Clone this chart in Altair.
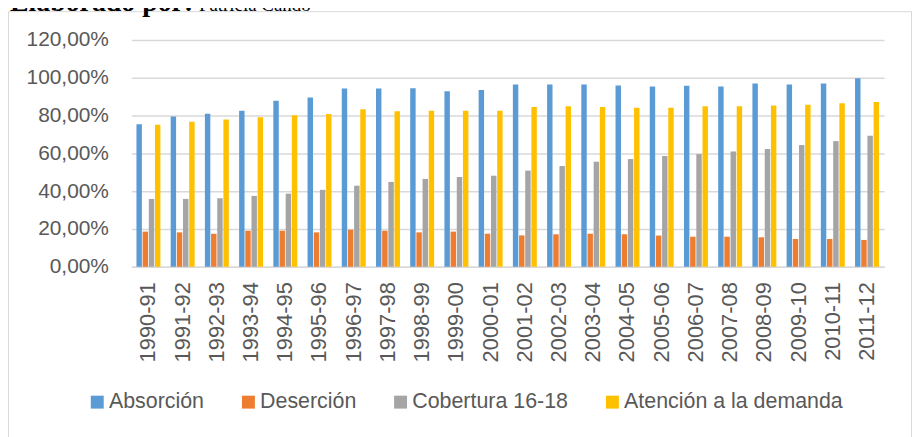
import altair as alt
import pandas as pd

years = ["1990-91", "1991-92", "1992-93", "1993-94", "1994-95", "1995-96", "1996-97",
         "1997-98", "1998-99", "1999-00", "2000-01", "2001-02", "2002-03", "2003-04",
         "2004-05", "2005-06", "2006-07", "2007-08", "2008-09", "2009-10", "2010-11", "2011-12"]
absorcion = [75.4, 79.5, 81.0, 82.6, 87.9, 89.6, 94.4, 94.4, 94.5, 92.9, 93.5,
             96.5, 96.5, 96.5, 95.9, 95.4, 95.8, 95.4, 97.0, 96.5, 97.0, 99.8]
desercion = [18.6, 18.2, 17.5, 19.1, 19.1, 18.2, 19.6, 19.1, 18.2, 18.6, 17.5,
             16.6, 17.2, 17.5, 17.2, 16.5, 15.9, 15.9, 15.6, 14.7, 14.7, 14.2]
cobertura = [35.9, 35.9, 36.3, 37.5, 38.7, 40.7, 42.9, 44.9, 46.5, 47.5, 48.2,
             50.9, 53.3, 55.6, 57.0, 58.6, 59.6, 61.0, 62.3, 64.4, 66.5, 69.3]
atencion = [75.2, 76.8, 77.9, 79.1, 80.2, 80.9, 83.3, 82.3, 82.6, 82.6, 82.6,
            84.5, 84.9, 84.5, 84.2, 84.2, 84.9, 84.9, 85.4, 85.8, 86.5, 87.2]
series = ["Absorción", "Deserción", "Cobertura 16-18", "Atención a la demanda"]
colors = ["#5B9BD5", "#ED7D31", "#A5A5A5", "#FFC000"]
y_ticks = [0, 20, 40, 60, 80, 100, 120]
title_bold = "Elaborado por:"
title_normal = "Patricia Cando"

rows = []
for s, vals in zip(series, [absorcion, desercion, cobertura, atencion]):
    for y, v in zip(years, vals):
        rows.append({"year": y, "serie": s, "valor": v})
df = pd.DataFrame(rows)

W, H = 757, 228
FONT = "Liberation Sans"
TXT = "#595959"

frame = alt.Chart(pd.DataFrame({"k": [0]})).mark_rect(
    filled=False, stroke="#d9d9d9", strokeWidth=1
).encode(
    x=alt.value(-123.5), x2=alt.value(W + 27.5),
    y=alt.value(-28.5), y2=alt.value(H + 190)
)

bars = alt.Chart(df).mark_bar().encode(
    x=alt.X("year:N", sort=years, title=None,
            scale=alt.Scale(paddingInner=0.3, paddingOuter=0.15),
            axis=alt.Axis(labelAngle=-90, labelFontSize=22, labelColor=TXT, labelFont=FONT,
                          labelPadding=15, ticks=False, domainColor="#d9d9d9",
                          domainWidth=1.5, grid=False)),
    xOffset=alt.XOffset("serie:N", sort=series,
                        scale=alt.Scale(paddingInner=0.12, paddingOuter=0)),
    y=alt.Y("valor:Q", title=None, scale=alt.Scale(domain=[0, 120], nice=False),
            axis=alt.Axis(values=y_ticks,
                          labelExpr="replace(format(datum.value, '.2f'), '.', ',') + '%'",
                          labelFontSize=21, labelColor=TXT, labelFont=FONT,
                          labelPadding=23, ticks=False, tickSize=0, domain=False,
                          gridColor="#d9d9d9", gridWidth=1.5)),
    color=alt.Color("serie:N", sort=series,
                    scale=alt.Scale(domain=series, range=colors),
                    legend=alt.Legend(title=None, orient="none", legendX=-45, legendY=353,
                                      direction="horizontal", symbolType="square",
                                      symbolSize=169, symbolStrokeWidth=0,
                                      labelFontSize=21.5, labelColor=TXT, labelFont=FONT,
                                      labelOffset=1, columnPadding=33, padding=0,
                                      labelLimit=400)),
)

t1 = alt.Chart(pd.DataFrame({"t": [title_bold]})).mark_text(
    font="Liberation Serif", fontSize=28, fontWeight="bold", align="left",
    baseline="alphabetic", color="#000000"
).encode(text="t:N", x=alt.value(-122), y=alt.value(-29))

t2 = alt.Chart(pd.DataFrame({"t": [title_normal]})).mark_text(
    font="Liberation Serif", fontSize=19, align="left",
    baseline="alphabetic", color="#000000"
).encode(text="t:N", x=alt.value(68), y=alt.value(-29))

chart = alt.layer(frame, bars, t1, t2).properties(
    width=W, height=H,
    autosize=alt.AutoSizeParams(type="none"),
    padding={"left": 124, "top": 31, "right": 28, "bottom": 172},
    background="white",
).configure_view(stroke=None)

chart.save("out.html", embed_options={"renderer": "svg", "actions": False})
